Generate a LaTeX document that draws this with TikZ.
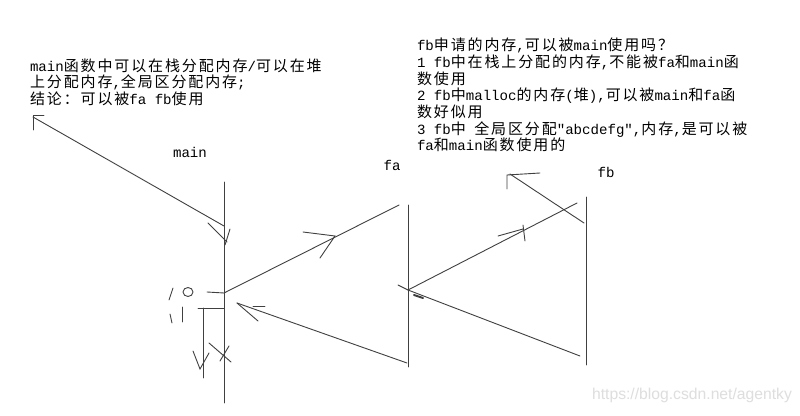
\documentclass[tikz,border=0pt]{standalone}
\usepackage{fontspec}
\setmainfont{Liberation Mono}
\newfontfamily\cjkf[LetterSpace=12.5]{Noto Sans CJK SC}
\newfontfamily\monof{Liberation Mono}
\newfontfamily\wmf{Liberation Sans}
\newcommand\cj[1]{{\cjkf\fontsize{15}{17}\selectfont #1}}
\newcommand\mo[1]{{\monof\fontsize{14.1}{17}\selectfont #1}}
\newcommand\hsp{\hspace{8.46pt}}
\begin{document}
\begin{tikzpicture}[x=1pt,y=-1pt,
  sk/.style={draw=black!75,line width=0.9pt,line cap=round},
  txt/.style={anchor=base west,inner sep=0pt,outer sep=0pt},
  lbl/.style={anchor=base,inner sep=0pt,font=\monof\fontsize{14.1}{17}\selectfont}]
\fill[white] (0,0) rectangle (800,415);
\useasboundingbox (0,0) rectangle (800,415);

% ---------- text block left
\node[txt] (t1) at (30,71) {\mo{main}\cj{函数中可以在栈分配内存}\mo{/}\cj{可以在堆}};
\node[txt] (t2) at (30,87.5) {\cj{上分配内存}\mo{,}\cj{全局区分配内存}\mo{;}};
\node[txt] (t3) at (30,104) {\cj{结论：可以被}\mo{fa fb}\cj{使用}};

% ---------- text block right
\node[txt] (r1) at (417,50.7) {\mo{fb}\cj{申请的内存}\mo{,}\cj{可以被}\mo{main}\cj{使用吗？}};
\node[txt] (r2) at (417,67.4) {\mo{1 fb}\cj{中在栈上分配的内存}\mo{,}\cj{不能被}\mo{fa}\cj{和}\mo{main}\cj{函}};
\node[txt] (r3) at (417,84) {\cj{数使用}};
\node[txt] (r4) at (417,100.8) {\mo{2 fb}\cj{中}\mo{malloc}\cj{的内存}\mo{(}\cj{堆}\mo{),}\cj{可以被}\mo{main}\cj{和}\mo{fa}\cj{函}};
\node[txt] (r5) at (417,117.5) {\cj{数好似用}};
\node[txt] (r6) at (417,134) {\mo{3 fb}\cj{中}\hsp\cj{全局区分配}\mo{"abcdefg",}\cj{内存}\mo{,}\cj{是可以被}};
\node[txt] (r7) at (417,150.7) {\mo{fa}\cj{和}\mo{main}\cj{函数使用的}};

% ---------- labels
\node[lbl] (lmain) at (190,157) {main};
\node[lbl] (lfa) at (392,170) {fa};
\node[lbl] (lfb) at (606,177) {fb};

% ---------- watermark
\node[anchor=base,inner sep=0pt,text=black!13,font=\wmf\fontsize{15.7}{18}\selectfont] (wm) at (692,399) {https://blog.csdn.net/agentky};

% ---------- coordinates
\coordinate (mainTop) at (224,182);
\coordinate (mainBot) at (224,403);
\coordinate (faTop) at (408,205);
\coordinate (faBot) at (408,367);
\coordinate (fbTop) at (586,197);
\coordinate (fbBot) at (586,365);
\coordinate (startA) at (33,117);
\coordinate (tipA) at (224,226);
\coordinate (faUp) at (399,205);
\coordinate (mainMid) at (224,293);
\coordinate (faLow) at (407,363);
\coordinate (mainLow) at (237,303);
\coordinate (faJ) at (408,290);
\coordinate (fbUp) at (577,203);
\coordinate (fbLow) at (580,356);
\coordinate (fbEdge) at (584,223);
\coordinate (fbStart) at (510,174);

% ---------- lifelines
\draw[sk] (mainTop) -- (mainBot);
\draw[sk] (faTop) -- (faBot);
\draw[sk] (fbTop) -- (fbBot);

% ---------- main: from top-left corner down to main
\draw[sk] (startA) -- (tipA);
\draw[sk] (33,130) -- (33,115) -- (44,115);
\draw[sk] (208,223) -- (227,242);
\draw[sk] (230,229) -- (225,245);

% ---------- main <-> fa
\draw[sk] (faUp) -- (mainMid);
\draw[sk] (303,232) -- (335,236) -- (320,258);
\draw[sk] (faLow) -- (mainLow);
\draw[sk] (mainLow) -- (258,321);
\draw[sk] (253,306) -- (265,306);

% ---------- marks on main
\draw[sk] (207,292) -- (mainMid);
\draw[sk] (169,300) -- (173,288);
\draw[sk] (188,292) ellipse [x radius=5,y radius=4.5];
\draw[sk] (170,314) -- (172,323);
\draw[sk] (182,307) -- (182,322);
\draw[sk] (198,308) -- (224,308);
\draw[sk] (203,308) -- (203,378);
\draw[sk] (193,351) -- (200,369) -- (209,353);
\draw[sk] (209,343) -- (231,362);
\draw[sk] (229,346) -- (220,361);

% ---------- fa <-> fb
\draw[sk] (398,285) -- (faJ);
\draw[sk] (faJ) -- (fbUp);
\draw[sk] (498,236) -- (523,229);
\draw[sk] (523,225) -- (525,241);
\draw[sk] (faJ) -- (fbLow);
\draw[sk,line width=2pt] (414,295) -- (423,298);
\draw[sk] (fbEdge) -- (fbStart);
\draw[sk] (507,189) -- (507,175) -- (540,173);
\end{tikzpicture}
\end{document}
